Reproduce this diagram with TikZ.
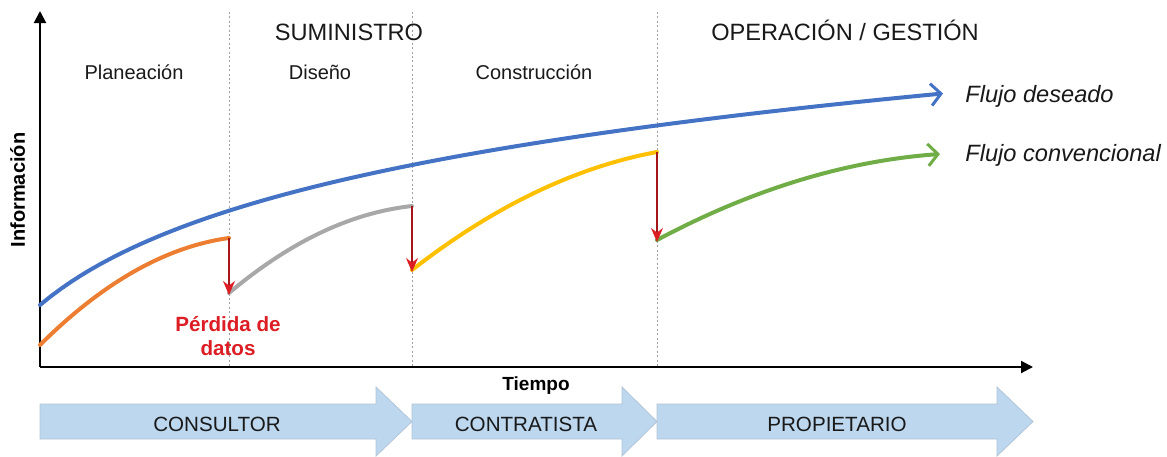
\documentclass[tikz,border=0pt]{standalone}
\usepackage{fontspec}
\setmainfont{Liberation Sans}
\usetikzlibrary{arrows.meta}
\definecolor{flowblue}{RGB}{68,114,196}
\definecolor{floworange}{RGB}{237,125,49}
\definecolor{flowgray}{RGB}{168,168,168}
\definecolor{flowyellow}{RGB}{255,192,0}
\definecolor{flowgreen}{RGB}{112,173,71}
\definecolor{lossred}{RGB}{220,30,36}
\definecolor{phasefill}{RGB}{189,215,238}
\definecolor{textdark}{RGB}{25,25,25}
\tikzset{
  axis/.style={line width=1pt,-{Triangle[length=6pt,width=6pt]}},
  divider/.style={gray!75,line width=0.5pt,dash pattern=on 1pt off 1.2pt},
  curve/.style={line width=2pt,line cap=round},
  flowtip/.style={-{Straight Barb[length=5pt,width=11pt,line width=1.5pt]}},
  loss/.style={lossred!75!black,line width=0.7pt,-{Stealth[length=7pt,width=6pt,lossred]}},
  phase/.style={fill=phasefill,draw=phasefill!80!gray,line width=0.4pt},
  stage/.style={textdark,anchor=base,font=\fontsize{11.8}{14}\selectfont},
  subst/.style={textdark,anchor=base,font=\fontsize{10}{12}\selectfont},
  flowlbl/.style={textdark,anchor=base west,inner sep=0pt,font=\fontsize{11.8}{14}\selectfont\itshape},
  phaselbl/.style={textdark,anchor=base,font=\fontsize{10.3}{12}\selectfont}
}
\begin{document}
\begin{tikzpicture}[x=0.5pt,y=-0.5pt]
  \useasboundingbox (0,0) rectangle (1167,456);
  % ejes
  \coordinate (o) at (40,367);
  \coordinate (ytop) at (40,11);
  \coordinate (xend) at (1033,367);
  \draw[axis] (o) -- (ytop);
  \draw[axis] (o) -- (xend);
  \node[rotate=90,anchor=base,font=\fontsize{10}{12}\selectfont\bfseries] (info) at (25,190) {Información};
  \node[anchor=base,font=\fontsize{9.5}{12}\selectfont\bfseries] (tiempo) at (536,390) {Tiempo};
  % divisiones
  \foreach \x/\n in {229/b1,412/b2,657/b3}{
    \coordinate (\n top) at (\x,12);
    \coordinate (\n) at (\x,367);
    \draw[divider] (\n top) -- (\n);
  }
  \node[stage] (suministro) at (349,40) {SUMINISTRO};
  \node[stage] (operacion) at (845,40) {OPERACIÓN / GESTIÓN};
  \node[subst] (planeacion) at (134,79) {Planeación};
  \node[subst] (diseno) at (320,79) {Diseño};
  \node[subst] (construccion) at (534,79) {Construcción};
  % flujo deseado
  \draw[curve,flowblue,flowtip] plot[domain=0:903,samples=90] ({40+\x},{305-97*ln(1+\x/115)});
  \node[flowlbl] (deseado) at (965,102) {Flujo deseado};
  % flujo convencional
  \coordinate (p1) at (229,238);
  \coordinate (q1) at (229,295);
  \coordinate (p2) at (412,206);
  \coordinate (q2) at (412,272);
  \coordinate (p3) at (657,152);
  \coordinate (q3) at (657,242);
  \draw[curve,floworange] (40,345) .. controls (103,282.3) and (166,246.7) .. (p1);
  \draw[curve,flowgray] (229,293) .. controls (289.9,241.7) and (350.9,212.7) .. (p2);
  \draw[curve,flowyellow] (412,270) .. controls (493.7,206.4) and (575.4,167.1) .. (p3);
  \draw[curve,flowgreen,flowtip] (657,240) .. controls (751.5,189.5) and (845.8,160.8) .. (940,154);
  \node[flowlbl] (convencional) at (965,161) {Flujo convencional};
  \draw[loss] (p1) -- (q1);
  \draw[loss] (p2) -- (q2);
  \draw[loss] (p3) -- (q3);
  \node[align=center,text=lossred,font=\fontsize{10.3}{12}\selectfont\bfseries] (perdida) at (228,336) {Pérdida de\\datos};
  % actores
  \draw[phase] (40,404) -- (376,404) -- (376,387) -- (412,421.5) -- (376,456) -- (376,439) -- (40,439) -- cycle;
  \draw[phase] (412,404) -- (622,404) -- (622,387) -- (657,421.5) -- (622,456) -- (622,439) -- (412,439) -- cycle;
  \draw[phase] (657,404) -- (997,404) -- (997,387) -- (1033,421.5) -- (997,456) -- (997,439) -- (657,439) -- cycle;
  \node[phaselbl] (consultor) at (217,431) {CONSULTOR};
  \node[phaselbl] (contratista) at (526,431) {CONTRATISTA};
  \node[phaselbl] (propietario) at (837,431) {PROPIETARIO};
\end{tikzpicture}
\end{document}
